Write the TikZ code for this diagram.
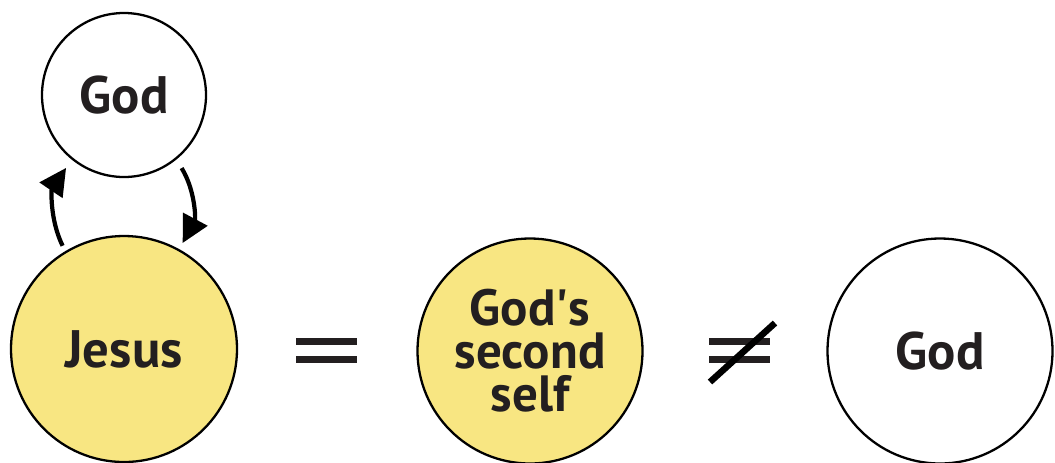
\documentclass[tikz,border=0pt]{standalone}
\usepackage{fontspec}
\setmainfont{PT Sans}
\usetikzlibrary{arrows.meta}
\definecolor{gsyellow}{HTML}{F8E682}
\definecolor{gsink}{HTML}{231F20}

\begin{document}
\begin{tikzpicture}[x=0.2mm, y=-0.2mm,
  person/.style={circle, draw=black, line width=1.3pt, inner sep=0pt, text=gsink, font=\bfseries\fontsize{30}{30}\selectfont},
  loop/.style={line width=2.4pt, -{Triangle[length=5.4mm, width=5.4mm]}, bend left=30},
  bar/.style={gsink, line width=1.4mm}]
  \useasboundingbox (0,0) rectangle (1055,462);
  \node[person, minimum size=32.8mm, fill=white] (godtop) at (124,95) {God};
  \node[person, minimum size=45.2mm, fill=gsyellow] (jesus) at (124,349) {Jesus};
  \node[person, minimum size=45mm, fill=gsyellow, align=center, font=\bfseries\fontsize{29}{24.5}\selectfont] (second) at (530,351) {God\textquotesingle s\\second\\self};
  \node[person, minimum size=45mm, fill=white] (godright) at (940,351) {God};
  % relations between the circles
  \coordinate (eq) at (326,350);
  \coordinate (neq) at (740,350);
  \draw[bar] ([shift={(-30,-9)}]eq) -- ++(61,0);
  \draw[bar] ([shift={(-30,9)}]eq) -- ++(61,0);
  \draw[bar] ([shift={(-31,-9)}]neq) -- ++(61,0);
  \draw[bar] ([shift={(-31,9)}]neq) -- ++(61,0);
  \draw[black, line width=1.3mm] ([shift={(-30,32)}]neq) -- ([shift={(35,-27)}]neq);
  % the two way exchange
  \draw[loop, shorten <=1.2mm, shorten >=2mm] (jesus.121) to (godtop.231);
  \draw[loop, shorten <=2mm, shorten >=1.4mm] (godtop.309) to (jesus.61);
\end{tikzpicture}
\end{document}
